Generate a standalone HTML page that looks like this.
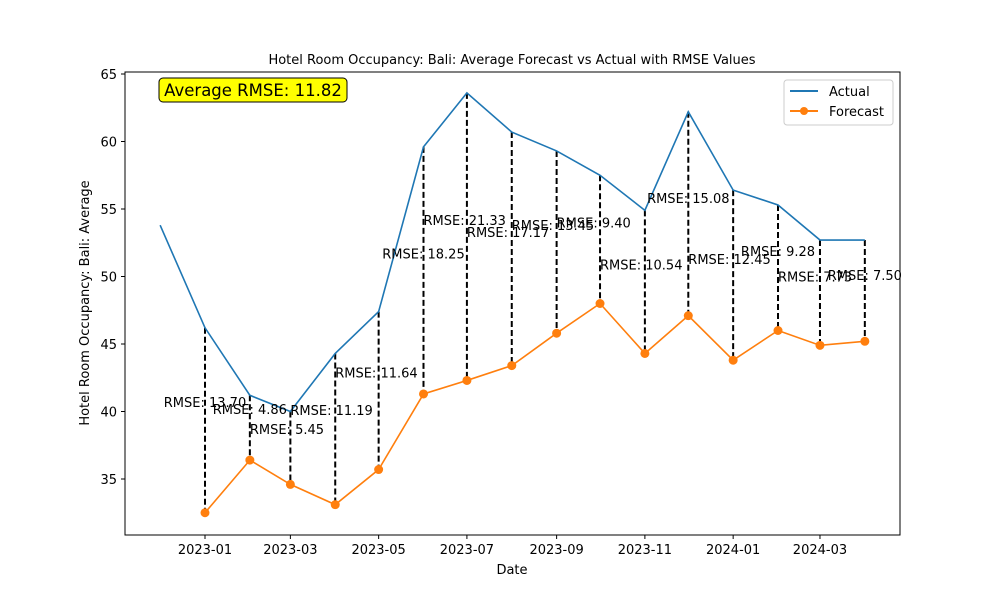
<!DOCTYPE html>
<html><head><meta charset="utf-8"><style>
html,body{margin:0;padding:0;background:#fff;}
svg{display:block;font-family:"DejaVu Sans","Liberation Sans",sans-serif;}
</style></head><body>
<svg id="chart" width="1000" height="600" viewBox="0 0 1000 600">
<rect width="1000" height="600" fill="#fff"/>
<text x="512" y="64" font-size="13" text-anchor="middle">Hotel Room Occupancy: Bali: Average Forecast vs Actual with RMSE Values</text>
<g id="grid"></g>
<g id="marks"></g>
<rect x="125" y="72" width="775" height="463" fill="none" stroke="#000" stroke-width="1"/>
<text x="512" y="574" font-size="13" text-anchor="middle">Date</text>
<text x="0" y="0" font-size="13" text-anchor="middle" transform="translate(89,303) rotate(-90)">Hotel Room Occupancy: Bali: Average</text>
<g>
<rect x="159" y="78" width="188" height="24" rx="4" fill="#ffff00" stroke="#000" stroke-width="1"/>
<text x="253" y="96" font-size="16.5" text-anchor="middle">Average RMSE: 11.82</text>
</g>
<g>
<rect x="784" y="80" width="109" height="45" rx="3" fill="#fff" stroke="#ccc"/>
<g>
<line x1="790" y1="91" x2="818" y2="91" stroke="#1f77b4" stroke-width="2"/>
<text x="829" y="96" font-size="13">Actual</text></g>
<g>
<line x1="790" y1="111" x2="818" y2="111" stroke="#ff7f0e" stroke-width="2"/>
<circle cx="804" cy="111" r="4" fill="#ff7f0e"/>
<text x="829" y="116" font-size="13">Forecast</text></g>
</g>
</svg>
<script>
const months = ["2022-12","2023-01","2023-02","2023-03","2023-04","2023-05","2023-06","2023-07","2023-08","2023-09","2023-10","2023-11","2023-12","2024-01","2024-02","2024-03","2024-04"];
const actual = [53.8,46.2,41.2,40.0,44.3,47.4,59.6,63.6,60.7,59.3,57.5,54.9,62.2,56.4,55.3,52.7,52.7];
const forecast = [null,32.5,36.4,34.6,33.1,35.7,41.3,42.3,43.4,45.8,48.0,44.3,47.1,43.8,46.0,44.9,45.2];
const rmse = ["13.70","4.86","5.45","11.19","11.64","18.25","21.33","17.17","13.45","9.40","10.54","15.08","12.45","9.28","7.73","7.50"];
const rmseLabelMonth = ["2023-01","2023-02","2023-02","2023-03","2023-04","2023-06","2023-06","2023-07","2023-08","2023-09","2023-10","2023-12","2023-12","2024-02","2024-02","2024-04"];
const rmseLabelY = [40.7,40.2,38.7,40.1,42.9,51.7,54.2,53.3,53.8,54.0,50.9,55.8,51.3,51.9,50.0,50.1];
const rmseAlign = ["middle","middle","start","start","start","middle","start","start","start","start","start","middle","start","middle","start","middle"];
const yTicks = [35,40,45,50,55,60,65];
const xTicks = ["2023-01","2023-03","2023-05","2023-07","2023-09","2023-11","2024-01","2024-03"];

const NS="http://www.w3.org/2000/svg";
const t0=Date.UTC(2023,0,1);
function dnum(s){const p=s.split("-");return (Date.UTC(+p[0],+p[1]-1,1)-t0)/86400000;}
function xs(s){return 205+dnum(s)*1.447;}
function ys(v){return 74+(65-v)*13.5;}
function mk(tag,attrs,parent){const e=document.createElementNS(NS,tag);for(const k in attrs)e.setAttribute(k,attrs[k]);parent.appendChild(e);return e;}
const grid=document.getElementById("grid"), marks=document.getElementById("marks");
yTicks.forEach(v=>{
  const l=mk("line",{x1:121,x2:125,y1:ys(v),y2:ys(v),stroke:"#000"},grid);
  
  
  const t=mk("text",{x:117,y:ys(v)+5,"font-size":13,"text-anchor":"end"},grid);
  t.textContent=v;
  
  
});
xTicks.forEach(s=>{
  const l=mk("line",{x1:xs(s),x2:xs(s),y1:535,y2:539,stroke:"#000"},grid);
  
  
  const t=mk("text",{x:xs(s),y:554,"font-size":13,"text-anchor":"middle"},grid);
  t.textContent=s;
  
  
});
months.forEach((m,i)=>{
  if(forecast[i]==null)return;
  const l=mk("line",{x1:xs(m),x2:xs(m),y1:ys(actual[i]),y2:ys(forecast[i]),stroke:"#000","stroke-width":2,"stroke-dasharray":"6,3"},marks);
  
  
});
const ap=months.map((m,i)=>xs(m)+","+ys(actual[i])).join(" ");
const al=mk("polyline",{points:ap,fill:"none",stroke:"#1f77b4","stroke-width":1.6},marks);


const fp=months.map((m,i)=>forecast[i]==null?null:xs(m)+","+ys(forecast[i])).filter(Boolean).join(" ");
const fl=mk("polyline",{points:fp,fill:"none",stroke:"#ff7f0e","stroke-width":1.6},marks);


months.forEach((m,i)=>{
  if(forecast[i]==null)return;
  const c=mk("circle",{cx:xs(m),cy:ys(forecast[i]),r:4.5,fill:"#ff7f0e"},marks);
  
  
});
rmse.forEach((r,i)=>{
  const t=mk("text",{x:xs(rmseLabelMonth[i]),y:ys(rmseLabelY[i])+5,"font-size":13,"text-anchor":rmseAlign[i]},marks);
  t.textContent="RMSE: "+r;
  
  
});
</script>
</body></html>
